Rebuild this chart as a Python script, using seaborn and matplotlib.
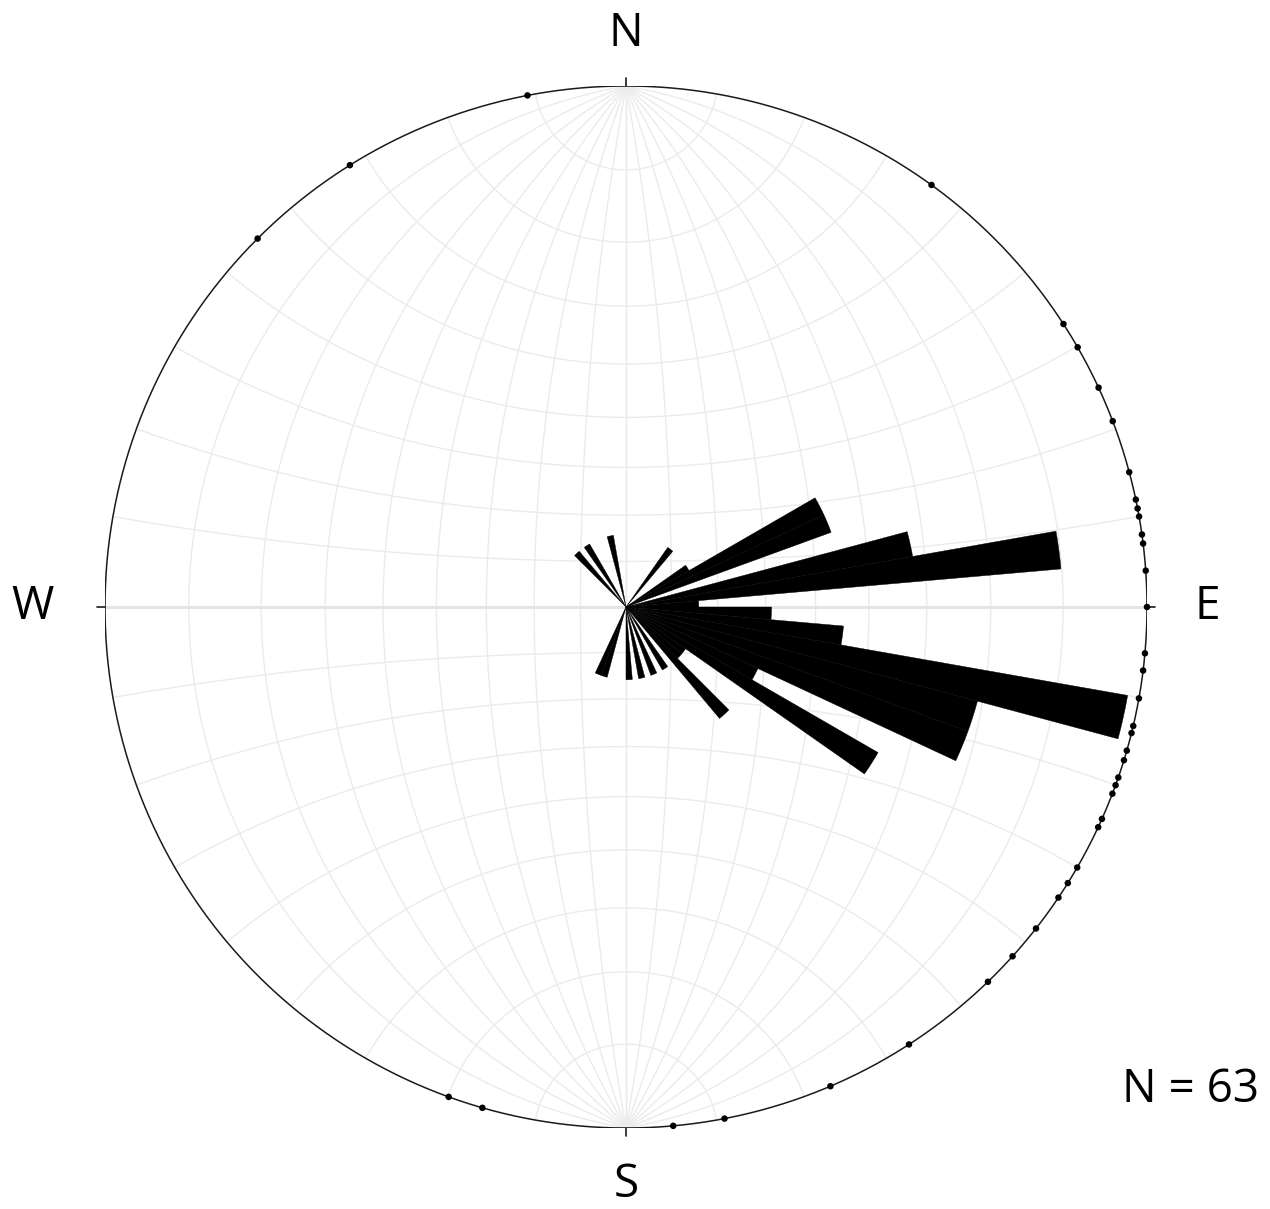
import numpy as np
import pandas as pd
import matplotlib
matplotlib.use("Agg")
import matplotlib.pyplot as plt
import seaborn as sns

# Rose diagram: 5-degree azimuth bins (bin start in degrees, count)
bin_starts = [35, 55, 60, 65, 75, 80, 85, 90, 95, 100, 105, 110, 115,
              120, 125, 130, 135, 145, 155, 165, 175, 195, 200, 315, 325, 345]
bin_counts = [1, 1, 3, 3, 4, 6, 1, 2, 3, 7, 5, 5, 2,
              4, 1, 1, 2, 1, 1, 1, 1, 1, 1, 1, 1, 1]
bin_width = 5

# Measured azimuths plotted on the primitive circle
point_azimuths = [315.0, 328.0, 349.1, 35.9, 57.1, 60.1, 65.1, 69.1, 75.0, 78.1,
                  79.1, 80.0, 82.0, 83.0, 86.0, 90.0, 95.1, 97.0, 100.1, 103.2,
                  104.0, 106.0, 107.1, 109.1, 110.0, 111.0, 114.0, 115.0, 120.0,
                  122.0, 123.9, 128.1, 132.1, 136.0, 147.1, 156.9, 169.1, 174.8,
                  196.0, 199.9]

cardinal_labels = ["N", "E", "S", "W"]
cardinal_azimuths = [0, 90, 180, 270]
sample_label = "N = 63"

sns.set_theme(style="white")
plt.rcParams["font.family"] = ["Open Sans", "DejaVu Sans"]

W, H = 1270, 1209
fig = plt.figure(figsize=(W / 100, H / 100), dpi=100)
fig.patch.set_facecolor("white")
cx, cy, R = 626, 607, 521
rect = [(cx - R) / W, (H - cy - R) / H, 2 * R / W, 2 * R / H]

# ---- Wulff (equal-angle) net -------------------------------------------
net = fig.add_axes(rect)
net.set_xlim(-1, 1)
net.set_ylim(-1, 1)
net.set_aspect("equal")
net.axis("off")


def project(e, n, u):
    """Lower-hemisphere stereographic projection of unit vectors (E, N, Up)."""
    d = 1.0 - u
    return e / d, n / d


t = np.linspace(0, np.pi, 721)
grid_kw = dict(color="#ebebeb", lw=1.0, zorder=1, solid_capstyle="butt")

# great circles striking N-S, dipping E and W every 10 degrees
for dip in range(10, 91, 10):
    d = np.radians(dip)
    for side in (1, -1):
        e = side * np.sin(t) * np.cos(d)
        n = np.cos(t)
        u = -np.sin(t) * np.sin(d)
        net.plot(*project(e, n, u), **grid_kw)

# small circles about the N-S axis every 10 degrees
for cone in range(10, 90, 10):
    a = np.radians(cone)
    for pole in (1, -1):
        e = np.sin(a) * np.cos(t)
        n = pole * np.cos(a) * np.ones_like(t)
        u = -np.sin(a) * np.sin(t)
        net.plot(*project(e, n, u), **grid_kw)

# E-W diameter
net.plot([-1, 1], [0, 0], color="#e4e4e4", lw=2.2, zorder=1)

# primitive circle
ang = np.linspace(0, 2 * np.pi, 1441)
net.plot(np.cos(ang), np.sin(ang), color="#1a1a1a", lw=1.1, zorder=3)

# cardinal ticks and labels
label_offsets = {"N": 1.100, "E": 1.115, "S": 1.110, "W": 1.140}
for lab, az in zip(cardinal_labels, cardinal_azimuths):
    s, c = np.sin(np.radians(az)), np.cos(np.radians(az))
    net.plot([s, 1.016 * s], [c, 1.016 * c], color="#1a1a1a", lw=1.2,
             zorder=3, clip_on=False)
    k = label_offsets[lab]
    net.text(k * s, k * c, lab, ha="center", va="center", fontsize=33,
             color="black", clip_on=False)

net.text(1.215, -0.928, sample_label, ha="right", va="center", fontsize=33,
         color="black", clip_on=False)

# data points on the primitive
pts = pd.DataFrame({
    "x": np.sin(np.radians(point_azimuths)),
    "y": np.cos(np.radians(point_azimuths)),
})
sns.scatterplot(data=pts, x="x", y="y", ax=net, color="black", s=22,
                edgecolor="none", zorder=5, clip_on=False, legend=False)
net.set_xlim(-1, 1)
net.set_ylim(-1, 1)

# ---- rose diagram ---------------------------------------------------------
rose = fig.add_axes(rect, projection="polar")
rose.set_facecolor("none")
rose.set_theta_zero_location("N")
rose.set_theta_direction(-1)
rose.bar(np.radians(bin_starts), bin_counts, width=np.radians(bin_width),
         align="edge", color="black", edgecolor="black", linewidth=0.3,
         zorder=4)
rose.set_ylim(0, 7.16)
rose.axis("off")

fig.savefig("out.png", dpi=100, facecolor="white")
